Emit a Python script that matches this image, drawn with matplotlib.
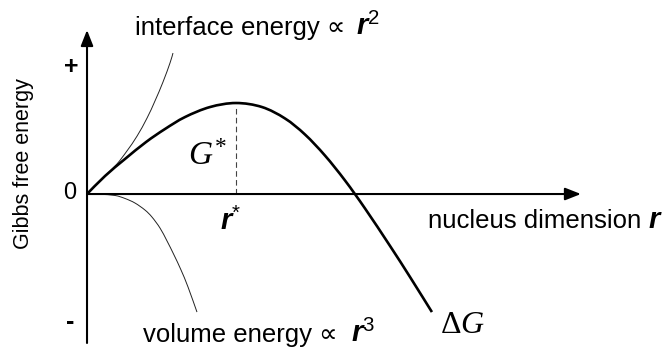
import numpy as np
import matplotlib.pyplot as plt
from matplotlib.path import Path
from matplotlib.patches import PathPatch

plt.rcParams['mathtext.fontset'] = 'custom'
plt.rcParams['mathtext.rm'] = 'Liberation Serif'
plt.rcParams['mathtext.it'] = 'Liberation Serif:italic'
plt.rcParams['mathtext.bf'] = 'Liberation Sans:italic:bold'
plt.rcParams['mathtext.sf'] = 'Liberation Sans'
sans = ['Liberation Sans', 'DejaVu Sans']

# r in units of r*, G in units of G*
r_total = [0, 0.121, 0.255, 0.396, 0.523, 0.658, 0.826, 1.0, 1.174, 1.329,
           1.463, 1.597, 1.732, 1.866, 2.034, 2.168, 2.315]
g_total = [0, 0.198, 0.385, 0.571, 0.714, 0.846, 0.956, 1.0, 0.956, 0.830,
           0.654, 0.423, 0.148, -0.159, -0.571, -0.912, -1.297]

r_surf = [0, 0.121, 0.201, 0.268, 0.336, 0.403, 0.456, 0.510, 0.557, 0.577]
g_surf = [0, 0.198, 0.330, 0.473, 0.637, 0.835, 1.022, 1.231, 1.440, 1.549]

r_vol = [0, 0.087, 0.188, 0.255, 0.322, 0.389, 0.436, 0.490, 0.537, 0.584,
         0.631, 0.678, 0.738]
g_vol = [0, -0.003, -0.016, -0.049, -0.099, -0.176, -0.253, -0.374, -0.516,
         -0.670, -0.835, -1.022, -1.297]

r_star, g_star = 1.0, 1.0


def smooth_curve(ax, xs, ys, **kw):
    # catmull-rom through the points, drawn as cubic bezier segments
    p = np.column_stack([xs, ys]).astype(float)
    p = np.vstack([p[0], p, p[-1]])
    verts = [p[1]]
    codes = [Path.MOVETO]
    for i in range(1, len(p) - 2):
        c1 = p[i] + (p[i + 1] - p[i - 1]) / 6
        c2 = p[i + 1] - (p[i + 2] - p[i]) / 6
        verts += [c1, c2, p[i + 1]]
        codes += [Path.CURVE4] * 3
    ax.add_patch(PathPatch(Path(verts, codes), fill=False, **kw))


fig = plt.figure(figsize=(6.66, 3.49), dpi=100)
ax = fig.add_axes([0, 0, 1, 1])
ax.set_xlim(-0.584, 3.886)
ax.set_ylim(-1.703, 2.132)
ax.axis('off')

# axes with arrows
arrow = dict(arrowstyle='-|>,head_length=0.38,head_width=0.15', lw=1.5,
             color='black', mutation_scale=25, shrinkA=0, shrinkB=0)
ax.annotate('', xy=(0, 1.802), xytext=(0, -1.637), arrowprops=arrow)
ax.annotate('', xy=(3.315, 0), xytext=(0, 0), arrowprops=arrow)

smooth_curve(ax, r_surf, g_surf, edgecolor='#222222', lw=0.7)
smooth_curve(ax, r_vol, g_vol, edgecolor='#222222', lw=0.7)
smooth_curve(ax, r_total, g_total, edgecolor='black', lw=1.9, capstyle='butt')
ax.plot([r_star, r_star], [0, 0.945 * g_star], color='#444444', lw=0.8,
        dashes=(5, 3))

ax.text(-0.114, 0.011, '0', fontsize=17, family=sans, ha='center', va='center')
ax.text(-0.107, 1.396, '+', fontsize=18, family=sans, ha='center', va='center',
        fontweight='bold')
ax.text(-0.114, -1.407, '-', fontsize=18, family=sans, ha='center', va='center',
        fontweight='bold')
ax.text(-0.423, 0.330, 'Gibbs free energy', fontsize=15.5, family=sans,
        rotation=90, ha='center', va='center')

ax.text(0.322, 1.747, 'interface energy \u221d', fontsize=18.5, family=sans,
        va='baseline')
ax.text(1.805, 1.747, r'$\mathbf{r}^{\mathsf{2}}$', fontsize=21, va='baseline')

ax.text(0.376, -1.626, 'volume energy \u221d', fontsize=18.5, family=sans,
        va='baseline')
ax.text(1.772, -1.626, r'$\mathbf{r}^{\mathsf{3}}$', fontsize=21, va='baseline')

ax.text(2.289, -0.374, 'nucleus dimension', fontsize=18.5, family=sans,
        va='baseline')
ax.text(3.765, -0.374, r'$\mathbf{r}$', fontsize=21, va='baseline')

ax.text(0.966, -0.396, r'$\mathbf{r}^{\mathsf{*}}$', fontsize=21,
        ha='center', va='baseline')
ax.text(0.678, 0.319, r'$G^{*}$', fontsize=24, va='baseline')
ax.text(2.369, -1.525, r'$\Delta G$', fontsize=23, va='baseline')

fig.savefig('out.png', dpi=100)
